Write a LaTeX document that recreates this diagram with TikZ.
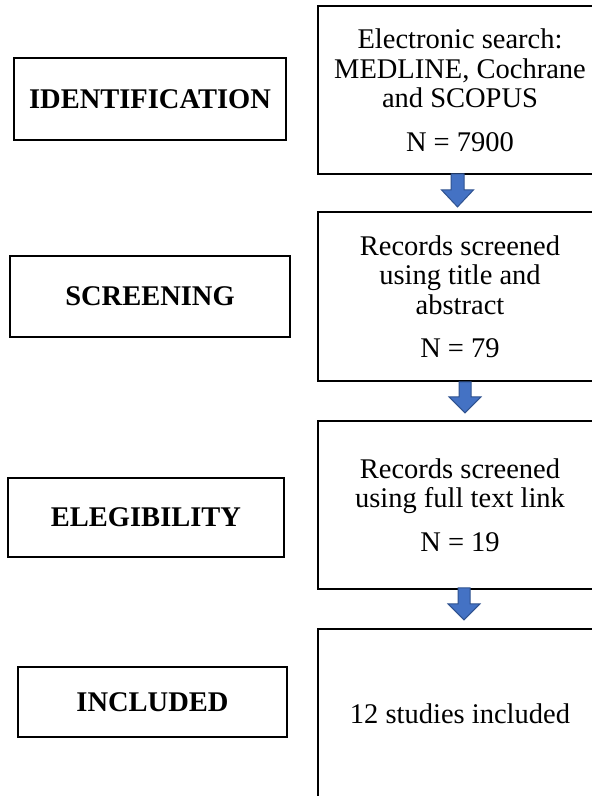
\documentclass[tikz,border=0pt]{standalone}
\usepackage{fontspec}
\setmainfont{Liberation Serif}
\usetikzlibrary{calc}
\definecolor{arrowfill}{HTML}{4472C4}
\definecolor{arrowline}{HTML}{2F528F}
\tikzset{
  stagebox/.style={draw=black, line width=1.8pt, fill=white, inner sep=0pt,
    font=\fontsize{28.5}{29.5}\selectfont\bfseries},
  infobox/.style={draw=black, line width=1.8pt, fill=white, inner sep=0pt,
    minimum width=284pt, align=center,
    font=\fontsize{28.5}{29.5}\selectfont},
  barrow/.style={fill=arrowfill, draw=arrowline, line width=1pt, line join=miter}
}
\begin{document}
\begin{tikzpicture}[x=1pt,y=-1pt]
\clip (0,0) rectangle (592,796);
\fill[white] (0,0) rectangle (592,796);
% left stage boxes
\node[stagebox, minimum width=272pt, minimum height=82pt] (id) at (150,99) {IDENTIFICATION};
\node[stagebox, minimum width=280pt, minimum height=81pt] (sc) at (150,296.5) {SCREENING};
\node[stagebox, minimum width=276pt, minimum height=79pt] (el) at (146,517.5) {ELEGIBILITY};
\node[stagebox, minimum width=269pt, minimum height=70pt] (in) at (152.5,702) {INCLUDED};
% right info boxes
\node[infobox, minimum height=168pt] (b1) at (460,90) {Electronic search:\\MEDLINE, Cochrane\\and SCOPUS\\[14pt]N = 7900};
\node[infobox, minimum height=169pt] (b2) at (460,296.5) {Records screened\\using title and\\abstract\\[14pt]N = 79};
\node[infobox, minimum height=168pt] (b3) at (460,505) {Records screened\\using full text link\\[14pt]N = 19};
\node[infobox, minimum height=170pt] (b4) at (460,714) {12 studies included};
% block arrows
\coordinate (a1) at ($(b1.south)+(-2.5,-1)$);
\coordinate (a2) at ($(b2.south)+(5,0)$);
\coordinate (a3) at ($(b3.south)+(4,-2)$);
\draw[barrow] (a1) ++(-6.5,0) -- ++(13,0) -- ++(0,16) -- ++(9.5,0) -- ++(-16,17) -- ++(-16,-17) -- ++(9.5,0) -- cycle;
\draw[barrow] (a2) ++(-6,0) -- ++(12,0) -- ++(0,15) -- ++(10,0) -- ++(-16,16) -- ++(-16,-16) -- ++(10,0) -- cycle;
\draw[barrow] (a3) ++(-6,0) -- ++(12,0) -- ++(0,16) -- ++(10,0) -- ++(-16,16) -- ++(-16,-16) -- ++(10,0) -- cycle;
\end{tikzpicture}
\end{document}
